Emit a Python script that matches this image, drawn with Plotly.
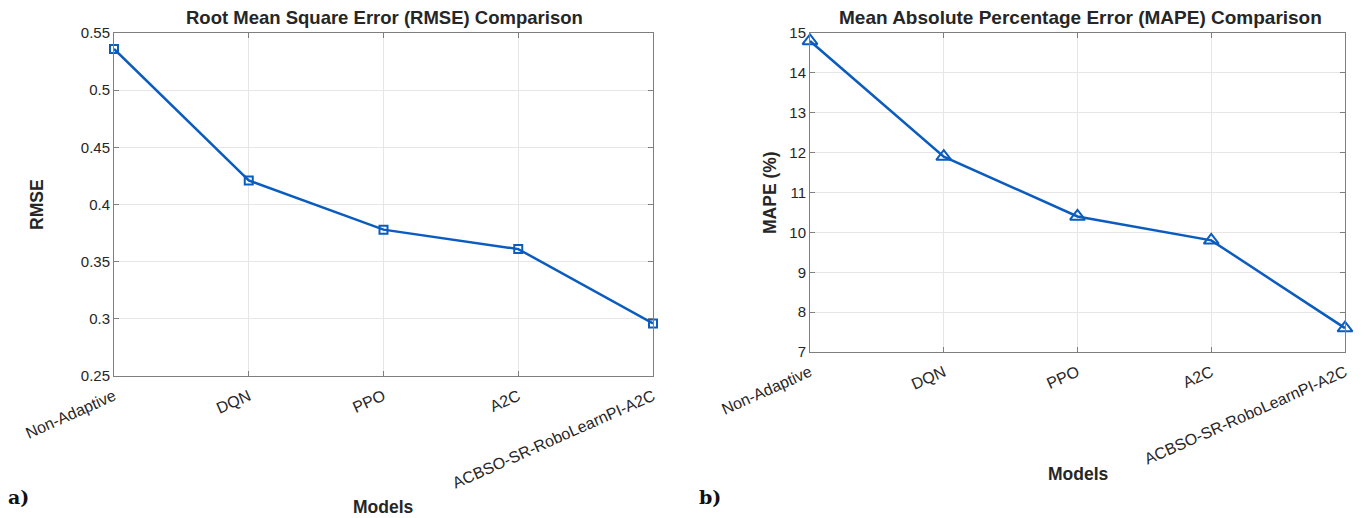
import plotly.graph_objects as go

models = ["Non-Adaptive", "DQN", "PPO", "A2C", "ACBSO-SR-RoboLearnPI-A2C"]
rmse = [0.536, 0.421, 0.378, 0.361, 0.296]
mape = [14.8, 11.9, 10.4, 9.8, 7.6]
rmse_ticks = [0.25, 0.3, 0.35, 0.4, 0.45, 0.5, 0.55]
rmse_tick_text = ["0.25", "0.3", "0.35", "0.4", "0.45", "0.5", "0.55"]
mape_ticks = [7, 8, 9, 10, 11, 12, 13, 14, 15]

W, H = 1365, 518
LINE = "#0b5cbf"
FRAME = "#7f7f7f"
TXT = "#262626"
FONT = "Liberation Sans, Arial, sans-serif"

fig = go.Figure()
fig.add_trace(go.Scatter(x=models, y=rmse, mode="lines+markers", xaxis="x", yaxis="y",
                         line=dict(color=LINE, width=2.5),
                         marker=dict(symbol="square-open", size=8, color=LINE, line=dict(width=2)),
                         cliponaxis=False, showlegend=False))
fig.add_trace(go.Scatter(x=models, y=mape, mode="lines+markers", xaxis="x2", yaxis="y2",
                         line=dict(color=LINE, width=2.5),
                         marker=dict(symbol="triangle-up-open", size=13, color=LINE, line=dict(width=2)),
                         cliponaxis=False, showlegend=False))

def px(x):
    return x / W

def py(y):
    return 1 - y / H

axis_common = dict(showline=True, linecolor=FRAME, linewidth=1, mirror="allticks",
                   ticks="inside", ticklen=5, tickcolor=FRAME, automargin=False,
                   showgrid=True, gridcolor="#e6e6e6", gridwidth=1, zeroline=False)
yfont = dict(tickfont=dict(family=FONT, size=15, color=TXT))
xfont = dict(tickfont=dict(family=FONT, size=16, color=TXT), tickangle=-24, ticklabelstandoff=4)

fig.update_layout(
    template="none",
    width=W, height=H, margin=dict(l=0, r=0, t=0, b=0, pad=0),
    paper_bgcolor="white", plot_bgcolor="white",
    xaxis=dict(domain=[px(114), px(653)], type="category", range=[0, 4],
               anchor="y", **axis_common, **xfont),
    yaxis=dict(domain=[py(376), py(33)], range=[0.25, 0.55], tickvals=rmse_ticks,
               ticktext=rmse_tick_text, anchor="x", **axis_common, **yfont),
    xaxis2=dict(domain=[px(810), px(1345)], type="category", range=[0, 4],
                anchor="y2", **axis_common, **xfont),
    yaxis2=dict(domain=[py(352), py(33)], range=[7, 15], tickvals=mape_ticks,
                anchor="x2", **axis_common, **yfont),
)

def note(text, x, y, size, angle=0, anchor="center", family=FONT, color=TXT):
    return dict(text=text, x=px(x), y=py(y), xref="paper", yref="paper", showarrow=False,
                xanchor=anchor, yanchor="middle", textangle=angle,
                font=dict(family=family, size=size, color=color))

SERIF = "DejaVu Serif, Liberation Serif, serif"
ann = [
    note("<b>Root Mean Square Error (RMSE) Comparison</b>", 384, 17, 18.5),
    note("<b>Mean Absolute Percentage Error (MAPE) Comparison</b>", 1080, 17, 19),
    note("<b>RMSE</b>", 37, 205, 17.5, angle=-90),
    note("<b>MAPE (%)</b>", 770, 193, 17.5, angle=-90),
    note("<b>Models</b>", 383, 507, 17.5),
    note("<b>Models</b>", 1078, 474, 17.5),
    note("<b>a)</b>", 6, 497, 19, anchor="left", family=SERIF, color="#111"),
    note("<b>b)</b>", 697, 497, 19, anchor="left", family=SERIF, color="#111"),
]
fig.update_layout(annotations=ann)

fig.write_html("out.html", config={"displayModeBar": False},
               post_script="document.body.style.margin='0';document.body.style.padding='0';")
